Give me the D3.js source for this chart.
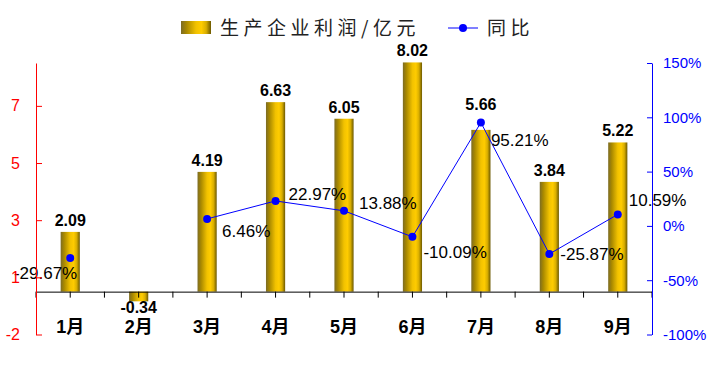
<!DOCTYPE html>
<html>
<head>
<meta charset="utf-8">
<script src="https://cdn.jsdelivr.net/npm/d3@7"></script>
<style>
    body { margin: 0; background: #fff; }
    #chart { width: 718px; height: 373px; }
    text { font-family: "Liberation Sans", Arial, "Noto Sans CJK SC", sans-serif; }
</style>
</head>
<body>
<div id="chart"></div>
<script>
//Datos
const meses = ['1月', '2月', '3月', '4月', '5月', '6月', '7月', '8月', '9月'];
const beneficios = [2.09, -0.34, 4.19, 6.63, 6.05, 8.02, 5.66, 3.84, 5.22];
const interanual = [-29.67, null, 6.46, 22.97, 13.88, -10.09, 95.21, -25.87, 10.59];
const ticksIzq = [-1.5, 0.5, 2.5, 4.5, 6.5];
const etiquetasIzq = ['-2', '1', '3', '5', '7'];
const ticksDer = [-100, -50, 0, 50, 100, 150];

//Colocación de las etiquetas de la línea (dx, dy, anclaje)
const offsetsLinea = [[7, 21, 'end'], null, [15, 18, 'start'], [13, -1, 'start'], [15, -2, 'start'],
    [11, 21, 'start'], [10, 23, 'start'], [11, 6, 'start'], [11, -8, 'start']];
//Separación extra de las etiquetas de barras
const extraBarras = [0, 0, 0, 0, 0, 0, 14, 0, 0];

const COLOR_IZQ = '#FF0000',
COLOR_DER = '#0000FF';

let svg = d3.select('#chart')
    .append('svg')
        .attr('width', 718)
        .attr('height', 373);

let defs = svg.append('defs');
let grad = defs.append('linearGradient')
    .attr('id', 'oro')
    .attr('x1', '0%').attr('x2', '100%')
    .attr('y1', '0%').attr('y2', '0%');
[['0%', '#7C6C24'], ['18%', '#A88800'], ['50%', '#F2C200'], ['68%', '#FFCC00'], ['84%', '#D9AE00'], ['100%', '#6B5800']]
    .forEach(function(s) {
        grad.append('stop').attr('offset', s[0]).attr('stop-color', s[1]);
    });

let x = d3.scaleBand()
    .domain(meses)
    .range([36, 652]);

let yL = d3.scaleLinear()
    .domain([-1.5, 8])
    .range([334.5, 63]);

let yR = d3.scaleLinear()
    .domain([-100, 150])
    .range([334.5, 63]);

let barW = x.bandwidth() * 0.28;

//Barras
svg.selectAll('.rect')
    .data(beneficios)
    .enter()
    .append('rect')
    .attr('class', 'rect')
    .attr('x', function(d, i) { return x(meses[i]) + x.bandwidth() / 2 - barW / 2; })
    .attr('y', function(d) { return yL(Math.max(0, d)); })
    .attr('width', barW)
    .attr('height', function(d) { return Math.abs(yL(d) - yL(0)); })
    .attr('fill', 'url(#oro)');

//Eje de categorías
let xAxis = d3.axisBottom(x).tickSizeInner(6).tickSizeOuter(0).tickPadding(23);
let gx = svg.append('g')
    .attr('transform', 'translate(0,' + yL(0) + ')')
    .call(xAxis);
gx.select('.domain').attr('stroke', '#000');
gx.selectAll('.tick line').attr('stroke', '#000');
gx.selectAll('.tick text')
    .attr('fill', '#000')
    .style('font-size', '18px')
    .style('font-weight', 'bold');
gx.selectAll('.sep')
    .data(meses.map(function(d) { return x(d); }).concat([x.range()[1]]))
    .enter()
    .append('line')
    .attr('class', 'sep')
    .attr('x1', function(d) { return d; })
    .attr('x2', function(d) { return d; })
    .attr('y1', 0)
    .attr('y2', 6)
    .attr('stroke', '#000');

//Etiquetas de barras
svg.selectAll('.lbl-bar')
    .data(beneficios)
    .enter()
    .append('text')
    .attr('class', 'lbl-bar')
    .attr('x', function(d, i) { return x(meses[i]) + x.bandwidth() / 2; })
    .attr('y', function(d, i) { return d >= 0 ? yL(d) - 6 - extraBarras[i] : yL(d) + 12; })
    .attr('text-anchor', 'middle')
    .style('font-size', '16px')
    .style('font-weight', 'bold')
    .attr('fill', '#000')
    .text(function(d) { return d.toFixed(2); });

//Línea de variación
let puntos = interanual.map(function(d, i) { return { mes: meses[i], v: d, i: i }; });
let cx = function(d) { return x(d.mes) + x.bandwidth() / 2; };

let linea = d3.line()
    .defined(function(d) { return d.v !== null; })
    .x(cx)
    .y(function(d) { return yR(d.v); });

svg.append('path')
    .datum(puntos)
    .attr('d', linea)
    .attr('fill', 'none')
    .attr('stroke', COLOR_DER)
    .attr('stroke-width', 1);

let validos = puntos.filter(function(d) { return d.v !== null; });

svg.selectAll('.punto')
    .data(validos)
    .enter()
    .append('circle')
    .attr('class', 'punto')
    .attr('cx', cx)
    .attr('cy', function(d) { return yR(d.v); })
    .attr('r', 4)
    .attr('fill', COLOR_DER);

svg.selectAll('.lbl-linea')
    .data(validos)
    .enter()
    .append('text')
    .attr('class', 'lbl-linea')
    .attr('x', function(d) { return cx(d) + offsetsLinea[d.i][0]; })
    .attr('y', function(d) { return yR(d.v) + offsetsLinea[d.i][1]; })
    .attr('text-anchor', function(d) { return offsetsLinea[d.i][2]; })
    .style('font-size', '17px')
    .attr('fill', '#000')
    .text(function(d) { return d.v.toFixed(2) + '%'; });

//Eje izquierdo
let yAxisL = d3.axisLeft(yL)
    .tickValues(ticksIzq)
    .tickFormat(function(d, i) { return etiquetasIzq[i]; })
    .tickSizeInner(-6)
    .tickSizeOuter(0)
    .tickPadding(16);
let gl = svg.append('g')
    .attr('transform', 'translate(36,0)')
    .call(yAxisL);
gl.select('.domain').attr('stroke', COLOR_IZQ);
gl.selectAll('.tick line').attr('stroke', COLOR_IZQ);
gl.selectAll('.tick text').attr('fill', COLOR_IZQ).style('font-size', '16px');

//Eje derecho
let yAxisR = d3.axisRight(yR)
    .tickValues(ticksDer)
    .tickFormat(function(d) { return d + '%'; })
    .tickSizeInner(-5)
    .tickSizeOuter(0)
    .tickPadding(11);
let gr = svg.append('g')
    .attr('transform', 'translate(652,0)')
    .call(yAxisR);
gr.select('.domain').attr('stroke', COLOR_DER);
gr.selectAll('.tick line').attr('stroke', COLOR_DER);
gr.selectAll('.tick text').attr('fill', COLOR_DER).style('font-size', '15px');

//Leyenda
let leg = svg.append('g');
leg.append('rect')
    .attr('x', 181).attr('y', 21)
    .attr('width', 30).attr('height', 13)
    .attr('fill', 'url(#oro)');
leg.append('text')
    .attr('x', 220).attr('y', 35)
    .style('font-family', '"Noto Sans CJK SC", sans-serif')
    .style('font-size', '19px')
    .style('letter-spacing', '4.5px')
    .attr('fill', '#222')
    .text('生产企业利润/亿元');
leg.append('line')
    .attr('x1', 448).attr('x2', 478)
    .attr('y1', 28).attr('y2', 28)
    .attr('stroke', COLOR_DER);
leg.append('circle')
    .attr('cx', 463).attr('cy', 28).attr('r', 4)
    .attr('fill', COLOR_DER);
leg.append('text')
    .attr('x', 487).attr('y', 35)
    .style('font-family', '"Noto Sans CJK SC", sans-serif')
    .style('font-size', '19px')
    .style('letter-spacing', '4.5px')
    .attr('fill', '#222')
    .text('同比');
</script>
</body>
</html>
